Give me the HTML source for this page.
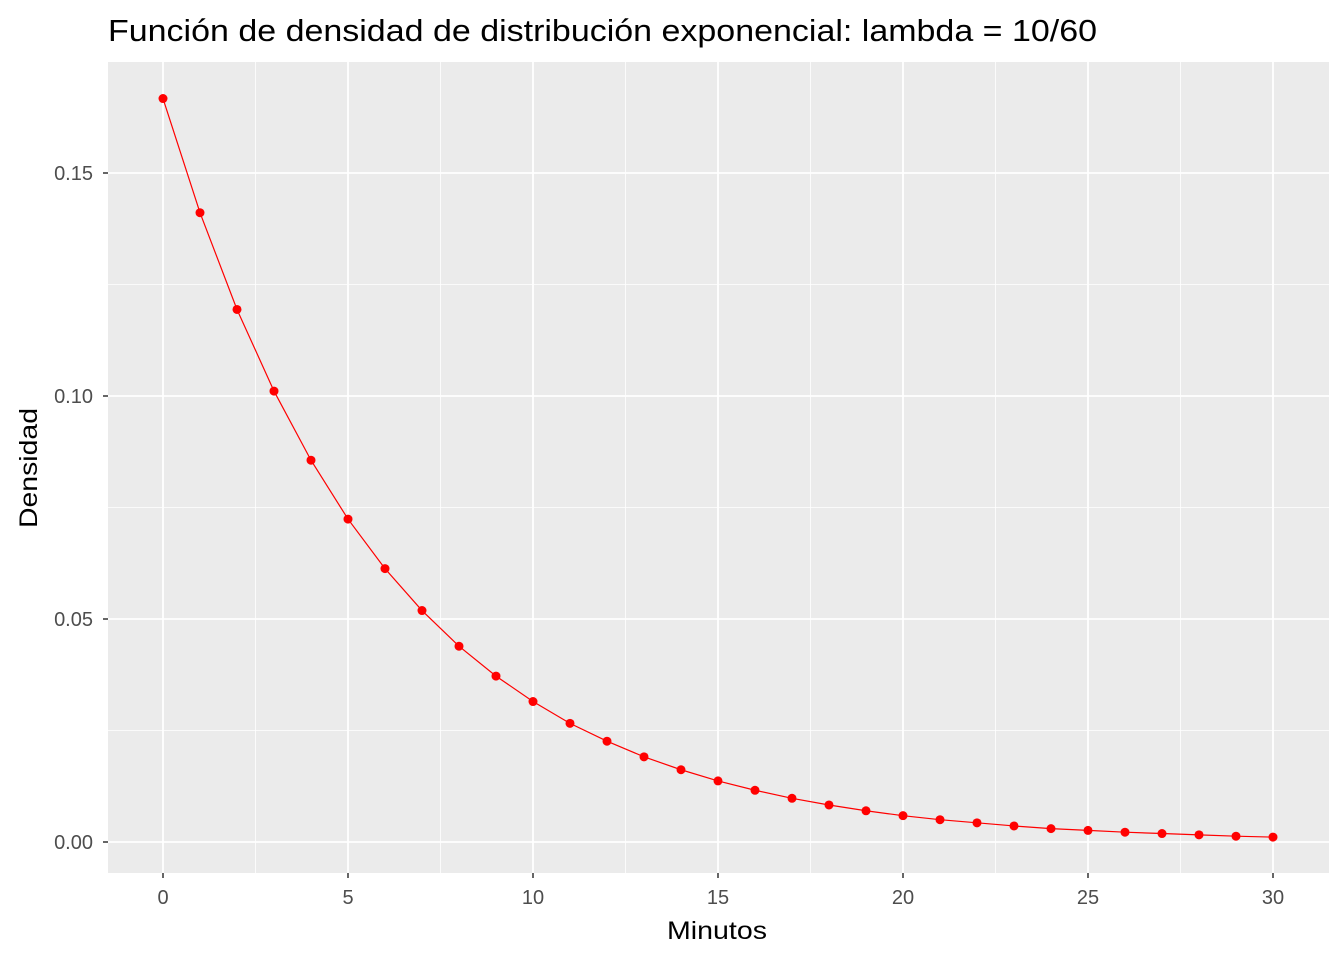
<!DOCTYPE html>
<html><head><meta charset="utf-8"><style>body{margin:0;background:#fff}svg{display:block;font-family:"Liberation Sans",Arial,sans-serif}</style></head>
<body>
<svg id="c" width="1344" height="960"></svg>
<script>
const minutes=[0,1,2,3,4,5,6,7,8,9,10,11,12,13,14,15,16,17,18,19,20,21,22,23,24,25,26,27,28,29,30];
const density=[0.1667,0.1411,0.1194,0.1011,0.0856,0.0724,0.0613,0.0519,0.0439,0.0372,0.0315,0.0266,0.0226,0.0191,0.0162,0.0137,0.0116,0.0098,0.0083,0.0070,0.0059,0.0050,0.0043,0.0036,0.0030,0.0026,0.0022,0.0019,0.0016,0.0013,0.0011];
const xTicks=[0,5,10,15,20,25,30];
const yTicks=[0,0.05,0.10,0.15];
const yTickLabels=["0.00","0.05","0.10","0.15"];
const L=108,R=1329,T=62,B=873;
const sx=v=>163+v*(1273-163)/30;
const sy=v=>842-v*(842-173)/0.15;
const svg=document.getElementById('c');const NS='http://www.w3.org/2000/svg';
function mk(t,a,p){const e=document.createElementNS(NS,t);for(const k in a)e.setAttribute(k,a[k]);(p||svg).appendChild(e);return e;}
let e=mk('rect',{x:L,y:T,width:R-L,height:B-T,fill:'#ebebeb'});


for(let i=0;i<xTicks.length-1;i++){const m=(xTicks[i]+xTicks[i+1])/2;e=mk('line',{x1:sx(m),x2:sx(m),y1:T,y2:B,stroke:'#fff','stroke-width':0.8});

}
for(let i=0;i<yTicks.length-1;i++){const m=(yTicks[i]+yTicks[i+1])/2;e=mk('line',{x1:L,x2:R,y1:sy(m),y2:sy(m),stroke:'#fff','stroke-width':0.8});

}
xTicks.forEach(v=>{e=mk('line',{x1:sx(v),x2:sx(v),y1:T,y2:B,stroke:'#fff','stroke-width':1.8});


e=mk('line',{x1:sx(v),x2:sx(v),y1:B,y2:B+5,stroke:'#333','stroke-width':1.5});


e=mk('text',{x:sx(v),y:904,'text-anchor':'middle','font-size':20,fill:'#4d4d4d'});e.textContent=v;

});
yTicks.forEach((v,i)=>{e=mk('line',{x1:L,x2:R,y1:sy(v),y2:sy(v),stroke:'#fff','stroke-width':1.8});


e=mk('line',{x1:L-5,x2:L,y1:sy(v),y2:sy(v),stroke:'#333','stroke-width':1.5});


e=mk('text',{x:L-15,y:sy(v)+7,'text-anchor':'end','font-size':20,fill:'#4d4d4d'});e.textContent=yTickLabels[i];

});
e=mk('polyline',{points:minutes.map((m,i)=>sx(m)+','+sy(density[i])).join(' '),fill:'none',stroke:'#ff0000','stroke-width':1.2});


minutes.forEach((m,i)=>{e=mk('circle',{cx:sx(m),cy:sy(density[i]),r:4.5,fill:'#ff0000'});

});
e=mk('text',{x:108,y:41,'font-size':31,fill:'#000',textLength:989,lengthAdjust:'spacingAndGlyphs'});e.textContent='Función de densidad de distribución exponencial: lambda = 10/60';


e=mk('text',{x:667,y:939,'font-size':25,fill:'#000',textLength:100,lengthAdjust:'spacingAndGlyphs'});e.textContent='Minutos';


e=mk('text',{x:0,y:0,'font-size':25,fill:'#000',textLength:120,lengthAdjust:'spacingAndGlyphs',transform:'translate(37,528) rotate(-90)'});e.textContent='Densidad';


</script>
</body></html>
